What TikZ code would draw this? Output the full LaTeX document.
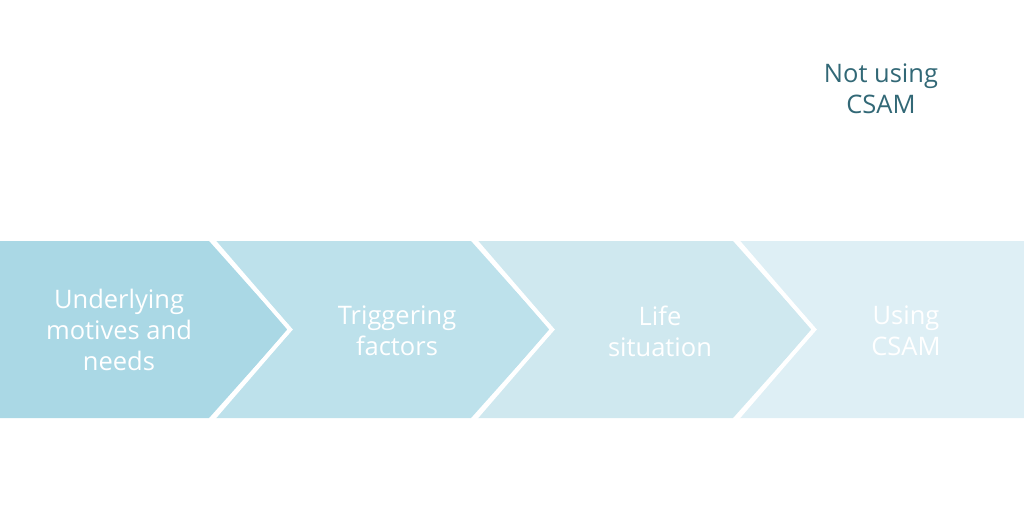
\documentclass[tikz,border=0pt]{standalone}
\usepackage{fontspec}
\setmainfont{Open Sans}
\usetikzlibrary{positioning}
\definecolor{chevA}{RGB}{170,216,229}
\definecolor{chevB}{RGB}{189,225,235}
\definecolor{chevC}{RGB}{207,232,239}
\definecolor{chevD}{RGB}{222,239,245}
\definecolor{outline}{RGB}{50,104,118}

\begin{document}
\begin{tikzpicture}[
  x=1pt, y=-1pt,
  font=\fontsize{25.5}{31}\selectfont,
  lbl/.style={text=white, align=center, inner sep=0pt},
  side/.style={text=outline, align=center, inner sep=0pt},
  gap/.style={draw=white, line width=4pt, line join=miter},
]
\useasboundingbox (0,0) rectangle (1024,514);

% stages: first one has a straight left end, the last one runs off the page
\fill[chevA] (-5,241) -- (209,241) -- (288,329.5) -- (209,418) -- (-5,418) -- cycle;
\foreach \i/\c in {1/chevB, 2/chevC}
  \fill[\c] ({214+262*\i-262},241) -- ++(257,0) -- ++(79,88.5) -- ++(-79,88.5)
    -- ++(-257,0) -- ++(79,-88.5) -- cycle;
\fill[chevD] (738,241) -- (1030,241) -- (1030,418) -- (738,418) -- (817,329.5) -- cycle;
\foreach \i in {0,1,2}
  \draw[gap] ({211+262*\i},238) -- ({290+262*\i},329.5) -- ({211+262*\i},421);

\node[lbl] (motives) at (119,330) {Underlying\\motives and\\needs};
\node[lbl] (trigger) at (397,331) {Triggering\\factors};
\node[lbl] (life) at (660,331) {Life\\situation};
\node[lbl] (using) at (906,331) {Using\\CSAM};

% the branch that leaves the path
\node[side] (notusing) at (881,89) {Not using\\CSAM};
\end{tikzpicture}
\end{document}
